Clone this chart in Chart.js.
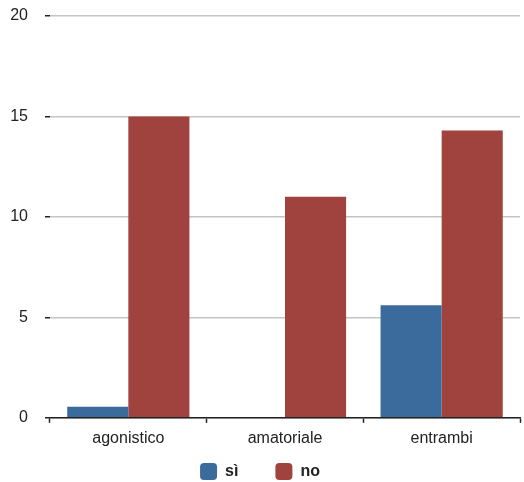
<!DOCTYPE html>
<html>
<head>
<meta charset="utf-8">
<script src="https://cdn.jsdelivr.net/npm/chart.js@4/dist/chart.umd.min.js"></script>
<style>
  html, body { margin: 0; padding: 0; background: #fff; overflow: hidden; }
  canvas { display: block; }
</style>
</head>
<body>
<canvas id="c" width="524" height="482"></canvas>
<script>
const categories = ['agonistico', 'amatoriale', 'entrambi'];
const siValues = [0.55, 0, 5.6];
const noValues = [15, 11, 14.3];
const yTicks = [0, 5, 10, 15, 20];

const FONT = 'Helvetica, "Liberation Sans", Arial, sans-serif';
const LEGEND_GAP = 37;       // horizontal gap between legend entries
const LEGEND_ITEM_TOP = 463; // top edge of the legend swatches

// The legend uses its label padding both between entries and above them;
// move the laid-out legend box so the wide gap only applies horizontally.
const legendShift = {
  id: 'legendShift',
  afterLayout(chart) {
    const lg = chart.legend;
    if (!lg) return;
    lg.top = LEGEND_ITEM_TOP - LEGEND_GAP;
    lg.bottom = chart.height;
    lg.height = lg.bottom - lg.top;
  }
};

new Chart(document.getElementById('c'), {
  type: 'bar',
  data: {
    labels: categories,
    datasets: [
      { label: 'sì', data: siValues, backgroundColor: '#3b6b9d', borderWidth: 0 },
      { label: 'no', data: noValues, backgroundColor: '#a0433f', borderWidth: 0 }
    ]
  },
  plugins: [legendShift],
  options: {
    responsive: false,
    maintainAspectRatio: false,
    animation: false,
    layout: { padding: { top: 16, right: 4, left: 0, bottom: 0 } },
    datasets: { bar: { categoryPercentage: 0.78, barPercentage: 1.0 } },
    plugins: {
      tooltip: { enabled: false },
      legend: {
        position: 'bottom',
        maxHeight: 28,
        labels: {
          font: { family: FONT, size: 16, weight: 'bold' },
          color: '#222',
          boxWidth: 17,
          boxHeight: 17,
          useBorderRadius: true,
          borderRadius: 4,
          padding: LEGEND_GAP
        }
      }
    },
    scales: {
      x: {
        grid: {
          offset: true,
          drawOnChartArea: false,
          drawTicks: true,
          tickLength: 5,
          tickColor: '#222',
          tickWidth: 1.5
        },
        border: { display: true, color: '#222', width: 1.5 },
        ticks: { font: { family: FONT, size: 16 }, color: '#222', padding: 6 }
      },
      y: {
        min: 0,
        max: 20,
        afterBuildTicks: (axis) => { axis.ticks = yTicks.map(v => ({ value: v })); },
        afterFit: (scale) => { scale.width = 50; scale.paddingTop = 0; scale.paddingBottom = 0; },
        grid: {
          color: '#c4c4c4',
          lineWidth: 1.5,
          tickLength: 5,
          tickColor: '#222',
          tickWidth: 1.5
        },
        border: { display: false },
        ticks: { font: { family: FONT, size: 16 }, color: '#222', padding: 17 }
      }
    }
  }
});
</script>
</body>
</html>
